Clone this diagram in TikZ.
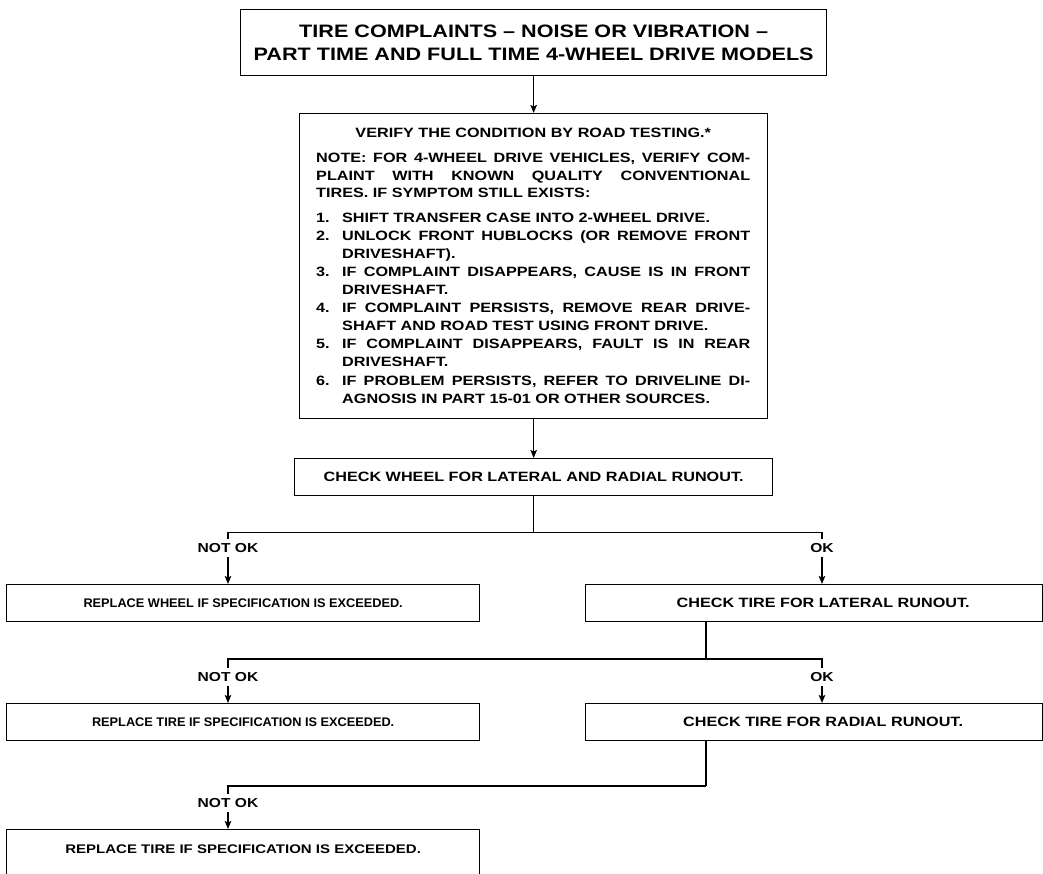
\documentclass[tikz,border=0pt]{standalone}
\usepackage{fontspec}
\setmainfont{Liberation Sans}
\newfontfamily\wf{Liberation Sans}[FakeStretch=1.2]
\newfontfamily\nf{Liberation Sans}[FakeStretch=1.02]
\usetikzlibrary{arrows.meta}
\newcommand\jl[2]{\leavevmode\hbox to #1{\spaceskip=0.2em plus 1fil\xspaceskip=0.2em plus 1fil\relax #2}}
\newcommand\itm[2]{\leavevmode\makebox[26pt][l]{#1}#2}
\newcommand\itmj[2]{\leavevmode\makebox[26pt][l]{#1}\jl{408pt}{#2}}
\begin{document}
\begin{tikzpicture}[x=1pt,y=-1pt,
  box/.style={draw, line width=1.3pt, inner sep=0pt},
  body/.style={font={\wf\bfseries\fontsize{13.5}{17.5}\selectfont}},
  leftf/.style={font={\nf\bfseries\fontsize{12.5}{16}\selectfont}},
  lbl/.style={font={\wf\bfseries\fontsize{13}{16}\selectfont}, inner xsep=1pt, inner ysep=4pt, text height=9.5pt, text depth=0pt},
  ln/.style={line width=1.3pt},
  arr/.style={line width=1.3pt, -{Stealth[length=8pt,width=6.5pt,inset=1.5pt]}}]
\useasboundingbox (0,0) rectangle (1043,874);

% title
\node[box, minimum width=586pt, minimum height=66pt, anchor=north west, align=center,
      font={\wf\bfseries\fontsize{18}{23}\selectfont}] (title) at (240,9)
  {TIRE COMPLAINTS – NOISE OR VIBRATION –\\PART TIME AND FULL TIME 4-WHEEL DRIVE MODELS};

% verify box
\node[box, minimum width=468pt, minimum height=305pt, anchor=north west] (verify) at (299,113) {};
\node[body, anchor=north west, inner sep=0pt, text width=434pt, align=left] (vtext) at (316,128) {%
\makebox[434pt][c]{VERIFY THE CONDITION BY ROAD TESTING.*}\\[7.5pt]
\jl{434pt}{NOTE: FOR 4-WHEEL DRIVE VEHICLES, VERIFY COM-}\\
\jl{434pt}{PLAINT WITH KNOWN QUALITY CONVENTIONAL}\\
TIRES. IF SYMPTOM STILL EXISTS:\\[7pt]
\itm{1.}{SHIFT TRANSFER CASE INTO 2-WHEEL DRIVE.}\\[0.6pt]
\itmj{2.}{UNLOCK FRONT HUBLOCKS (OR REMOVE FRONT}\\[0.6pt]
\itm{}{DRIVESHAFT).}\\[0.6pt]
\itmj{3.}{IF COMPLAINT DISAPPEARS, CAUSE IS IN FRONT}\\[0.6pt]
\itm{}{DRIVESHAFT.}\\[0.6pt]
\itmj{4.}{IF COMPLAINT PERSISTS, REMOVE REAR DRIVE-}\\[0.6pt]
\itm{}{SHAFT AND ROAD TEST USING FRONT DRIVE.}\\[0.6pt]
\itmj{5.}{IF COMPLAINT DISAPPEARS, FAULT IS IN REAR}\\[0.6pt]
\itm{}{DRIVESHAFT.}\\[0.6pt]
\itmj{6.}{IF PROBLEM PERSISTS, REFER TO DRIVELINE DI-}\\[0.6pt]
\itm{}{AGNOSIS IN PART 15-01 OR OTHER SOURCES.}};

% check wheel
\node[box, body, minimum width=478pt, minimum height=37pt, anchor=north west] (cw) at (294,458)
  {CHECK WHEEL FOR LATERAL AND RADIAL RUNOUT.};

\draw[arr] (title.south) -- (verify.north);
\draw[arr] (verify.south) -- (cw.north);

% level 1
\path (cw.south) ++(0,36) coordinate (j1);
\node[lbl] (nok1) at (228,548) {NOT OK};
\node[lbl] (ok1) at (822,548) {OK};
\node[box, leftf, minimum width=473pt, minimum height=37pt, anchor=north west] (rw) at (6,584)
  {REPLACE WHEEL IF SPECIFICATION IS EXCEEDED.};
\node[box, body, minimum width=457pt, minimum height=37pt, anchor=north west] (lat) at (585,584)
  {\hspace*{18pt}CHECK TIRE FOR LATERAL RUNOUT.};
\draw[ln] (cw.south) -- (j1);
\draw[ln] (nok1.north) |- (j1);
\draw[ln] (ok1.north) |- (j1);
\draw[arr] (nok1.south) -- (rw.north -| nok1.south);
\draw[arr] (ok1.south) -- (lat.north -| ok1.south);

% level 2
\coordinate (j2) at (706,659);
\node[lbl] (nok2) at (228,677) {NOT OK};
\node[lbl] (ok2) at (822,677) {OK};
\node[box, leftf, minimum width=473pt, minimum height=37pt, anchor=north west] (rt) at (6,703)
  {REPLACE TIRE IF SPECIFICATION IS EXCEEDED.};
\node[box, body, minimum width=457pt, minimum height=37pt, anchor=north west] (rad) at (585,703)
  {\hspace*{18pt}CHECK TIRE FOR RADIAL RUNOUT.};
\draw[ln] (lat.south -| j2) -- (j2);
\draw[ln] (nok2.north) |- (j2);
\draw[ln] (ok2.north) |- (j2);
\draw[arr] (nok2.south) -- (rt.north -| nok2.south);
\draw[arr] (ok2.south) -- (rad.north -| ok2.south);

% level 3
\coordinate (j3) at (706,786);
\node[lbl] (nok3) at (228,803) {NOT OK};
\node[box, font={\wf\bfseries\fontsize{12.5}{16}\selectfont}, minimum width=473pt, inner ysep=0pt, text height=24pt, text depth=26pt, anchor=north west] (rt2) at (6,829)
  {REPLACE TIRE IF SPECIFICATION IS EXCEEDED.};
\draw[ln] (rad.south -| j3) -- (j3);
\draw[ln] (nok3.north) |- (j3);
\draw[arr] (nok3.south) -- (rt2.north -| nok3.south);
\end{tikzpicture}
\end{document}
